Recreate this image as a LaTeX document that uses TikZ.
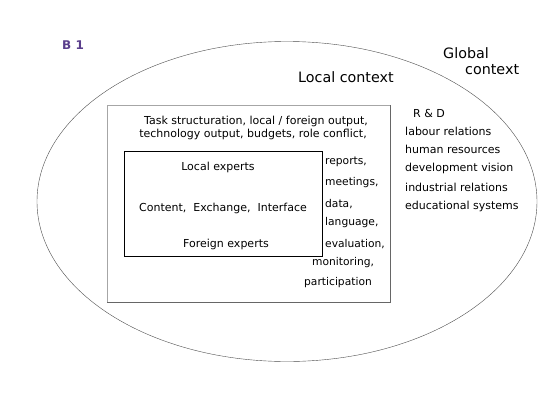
\documentclass[tikz,border=0pt]{standalone}
\usepackage{fontspec}
\setmainfont{DejaVu Sans}
\definecolor{tagpurple}{RGB}{90,62,140}
\tikzset{
  lbl/.style={inner sep=0pt, font=\fontsize{11}{13}\selectfont},
  head/.style={inner sep=0pt, font=\fontsize{14.3}{16}\selectfont},
  lline/.style={lbl, anchor=west},
  rline/.style={inner sep=0pt, anchor=west, font=\fontsize{10.7}{12}\selectfont}
}
\begin{document}
\begin{tikzpicture}[x=1pt,y=-1pt]
  \useasboundingbox (0,0) rectangle (550,413);
  % global context ellipse
  \draw[gray!60!black] (287,201.5) ellipse [x radius=250, y radius=160];
  % local context box
  \draw[gray!70] (107,105) rectangle (390,302);
  \draw[gray!80!black, line width=0.8pt] (107,302) -- (390,302) -- (390,105);
  % experts box
  \draw[black] (124,151) rectangle (322,256);

  \node[font=\bfseries\fontsize{12}{14}\selectfont, text=tagpurple, anchor=west, inner sep=0pt] (tag) at (62,45) {B 1};
  \node[head, anchor=west] (global) at (443,53) {Global};
  \node[head, anchor=west] (globalb) at (465,70) {context};
  \node[head, anchor=west] (local) at (298,77) {Local context};

  \node[lbl] (task) at (256,121) {Task structuration, local / foreign output,};
  \node[lbl] (tech) at (253,134) {technology output, budgets, role conflict,};

  \node[lbl] (lexp) at (218,167) {Local experts};
  \node[lbl] (cei) at (223,208) {Content,\ \ Exchange,\ \ Interface};
  \node[lbl] (fexp) at (226,244) {Foreign experts};

  \node[rline] (rep) at (325,162) {reports,};
  \node[rline] (meet) at (325,183) {meetings,};
  \node[rline] (data) at (325,204) {data,};
  \node[rline] (lang) at (325,223) {language,};
  \node[rline] (eval) at (325,244) {evaluation,};
  \node[rline] (mon) at (312,263) {monitoring,};
  \node[rline] (part) at (304,283) {participation};

  \node[lline] (rd) at (413,113) {R \& D};
  \node[lline] (labour) at (405,131) {labour relations};
  \node[lline] (human) at (405,149) {human resources};
  \node[lline] (devel) at (405,168) {development vision};
  \node[lline] (indus) at (405,187) {industrial relations};
  \node[lline] (educ) at (405,206) {educational systems};
\end{tikzpicture}
\end{document}
